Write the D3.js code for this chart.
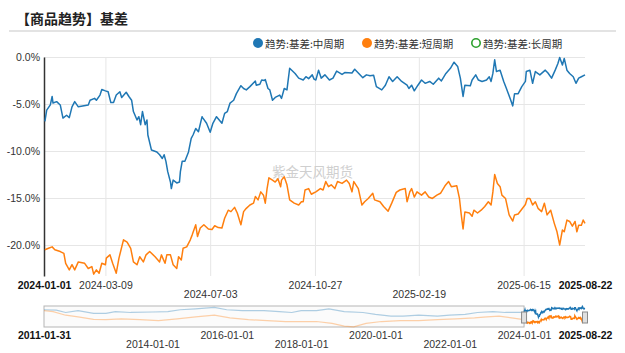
<!DOCTYPE html>
<html>
<head>
<meta charset="utf-8">
<script src="https://cdn.jsdelivr.net/npm/d3@7"></script>
<style>
  html, body { margin: 0; padding: 0; background: #fff; }
  svg { display: block; font-family: "Liberation Sans", Arial, "Noto Sans CJK SC", sans-serif; }
</style>
</head>
<body>
<svg id="chart"></svg>
<script>
// 中周期 (blue) — main window 2024-01-01 .. 2025-08-22
const midSeries = [
  ['2024-01-02', -6.85], ['2024-01-04', -5.65], ['2024-01-08', -5.1], ['2024-01-10', -4.2], ['2024-01-11', -4.9],
  ['2024-01-15', -4.75], ['2024-01-19', -5.1], ['2024-01-22', -6.5], ['2024-01-26', -6.2], ['2024-01-29', -6.45],
  ['2024-02-01', -5.3], ['2024-02-04', -4.75], ['2024-02-08', -5.3], ['2024-02-19', -5.1], ['2024-02-21', -4.6],
  ['2024-02-26', -4.4], ['2024-02-28', -4.6], ['2024-03-03', -4.05], ['2024-03-05', -3.45], ['2024-03-09', -3.6],
  ['2024-03-12', -3.7], ['2024-03-15', -4.85], ['2024-03-18', -4.85], ['2024-03-21', -4.05], ['2024-03-25', -3.7],
  ['2024-03-27', -4.3], ['2024-04-01', -3.75], ['2024-04-04', -4.2], ['2024-04-07', -4.6], ['2024-04-09', -5.8],
  ['2024-04-13', -6.7], ['2024-04-15', -6.35], ['2024-04-17', -7.2], ['2024-04-19', -5.8], ['2024-04-22', -7.2],
  ['2024-04-24', -6.7], ['2024-04-25', -8.3], ['2024-04-29', -9.9], ['2024-05-05', -10.1], ['2024-05-08', -10.4],
  ['2024-05-11', -10.8], ['2024-05-13', -10.4], ['2024-05-15', -11.1], ['2024-05-17', -12.2], ['2024-05-20', -13.3],
  ['2024-05-21', -14.0], ['2024-05-23', -13.1], ['2024-05-27', -13.4], ['2024-05-30', -13.3], ['2024-05-31', -12.2],
  ['2024-06-02', -11.1], ['2024-06-05', -11.1], ['2024-06-09', -10.1], ['2024-06-12', -8.65], ['2024-06-14', -8.3],
  ['2024-06-17', -7.6], ['2024-06-20', -7.95], ['2024-06-24', -6.35], ['2024-06-25', -6.5], ['2024-06-29', -7.05],
  ['2024-07-03', -8.0], ['2024-07-06', -7.05], ['2024-07-10', -6.35], ['2024-07-16', -7.05], ['2024-07-19', -6.0],
  ['2024-07-22', -5.8], ['2024-07-25', -4.9], ['2024-07-29', -4.6], ['2024-08-01', -3.9], ['2024-08-06', -3.05],
  ['2024-08-09', -3.35], ['2024-08-12', -3.5], ['2024-08-16', -3.15], ['2024-08-22', -2.55], ['2024-08-23', -3.0],
  ['2024-08-27', -2.9], ['2024-08-29', -2.45], ['2024-09-01', -2.5], ['2024-09-02', -2.4], ['2024-09-05', -3.35],
  ['2024-09-07', -3.5], ['2024-09-10', -4.6], ['2024-09-13', -4.3], ['2024-09-18', -4.05], ['2024-09-20', -4.4],
  ['2024-09-23', -3.35], ['2024-09-26', -3.5], ['2024-09-29', -1.2], ['2024-10-05', -1.75], ['2024-10-09', -2.25],
  ['2024-10-14', -2.45], ['2024-10-17', -2.1], ['2024-10-20', -2.3], ['2024-10-24', -1.9], ['2024-10-26', -2.35],
  ['2024-10-28', -2.45], ['2024-10-31', -1.4], ['2024-11-03', -2.25], ['2024-11-07', -1.9], ['2024-11-12', -2.45],
  ['2024-11-16', -2.25], ['2024-11-20', -1.5], ['2024-11-26', -1.85], ['2024-11-29', -1.65], ['2024-12-07', -1.7],
  ['2024-12-10', -1.3], ['2024-12-14', -1.7], ['2024-12-19', -2.2], ['2024-12-23', -1.9], ['2024-12-27', -2.0],
  ['2024-12-31', -1.95], ['2025-01-03', -3.15], ['2025-01-09', -3.5], ['2025-01-13', -3.0], ['2025-01-17', -2.1],
  ['2025-01-21', -2.6], ['2025-01-26', -2.1], ['2025-01-31', -2.6], ['2025-02-06', -3.0], ['2025-02-08', -3.35],
  ['2025-02-11', -3.0], ['2025-02-14', -3.6], ['2025-02-18', -3.0], ['2025-02-22', -2.45], ['2025-02-26', -2.8],
  ['2025-03-03', -2.6], ['2025-03-07', -2.9], ['2025-03-13', -2.25], ['2025-03-16', -2.55], ['2025-03-21', -1.75],
  ['2025-03-26', -1.2], ['2025-03-30', -0.55], ['2025-04-03', -1.0], ['2025-04-06', -2.25], ['2025-04-09', -4.2],
  ['2025-04-11', -3.0], ['2025-04-17', -3.05], ['2025-04-19', -2.45], ['2025-04-23', -1.9], ['2025-04-26', -2.45],
  ['2025-04-30', -2.6], ['2025-05-05', -2.45], ['2025-05-08', -2.1], ['2025-05-10', -2.6], ['2025-05-12', -1.75],
  ['2025-05-14', -0.3], ['2025-05-16', -1.55], ['2025-05-20', -1.4], ['2025-05-24', -2.6], ['2025-05-27', -3.35],
  ['2025-05-31', -4.4], ['2025-06-03', -5.2], ['2025-06-05', -3.9], ['2025-06-09', -3.9], ['2025-06-13', -3.15],
  ['2025-06-17', -2.6], ['2025-06-18', -1.55], ['2025-06-22', -1.4], ['2025-06-25', -2.8], ['2025-06-28', -1.55],
  ['2025-07-03', -1.9], ['2025-07-09', -1.4], ['2025-07-12', -1.7], ['2025-07-16', -2.25], ['2025-07-20', -1.4],
  ['2025-07-23', -0.7], ['2025-07-25', -0.05], ['2025-07-28', -0.85], ['2025-07-30', -0.15], ['2025-08-02', -1.4],
  ['2025-08-05', -1.75], ['2025-08-09', -2.1], ['2025-08-12', -2.8], ['2025-08-15', -2.25], ['2025-08-18', -2.1],
  ['2025-08-22', -1.9]
];

// 短周期 (orange)
const shortSeries = [
  ['2024-01-02', -20.5], ['2024-01-06', -20.35], ['2024-01-10', -20.2], ['2024-01-13', -20.5], ['2024-01-19', -20.7],
  ['2024-01-23', -20.9], ['2024-01-25', -21.95], ['2024-01-29', -22.65], ['2024-02-01', -22.1], ['2024-02-04', -22.65],
  ['2024-02-08', -21.8], ['2024-02-15', -21.95], ['2024-02-19', -22.5], ['2024-02-23', -22.3], ['2024-02-25', -23.1],
  ['2024-02-28', -22.65], ['2024-03-02', -23.0], ['2024-03-05', -21.95], ['2024-03-09', -22.1], ['2024-03-10', -21.4],
  ['2024-03-14', -21.05], ['2024-03-17', -21.95], ['2024-03-21', -23.0], ['2024-03-24', -21.4], ['2024-03-29', -19.45],
  ['2024-04-02', -19.7], ['2024-04-06', -20.35], ['2024-04-09', -21.8], ['2024-04-13', -22.1], ['2024-04-16', -21.25],
  ['2024-04-20', -21.8], ['2024-04-23', -21.05], ['2024-04-27', -20.7], ['2024-05-03', -21.25], ['2024-05-08', -21.8],
  ['2024-05-10', -21.05], ['2024-05-14', -21.95], ['2024-05-16', -21.05], ['2024-05-20', -21.05], ['2024-05-23', -22.1],
  ['2024-05-27', -22.5], ['2024-05-29', -21.25], ['2024-06-01', -21.6], ['2024-06-03', -20.35], ['2024-06-07', -20.2],
  ['2024-06-11', -19.45], ['2024-06-13', -18.95], ['2024-06-17', -17.85], ['2024-06-19', -19.1], ['2024-06-22', -18.2],
  ['2024-06-26', -17.85], ['2024-07-01', -18.3], ['2024-07-05', -18.35], ['2024-07-08', -17.95], ['2024-07-12', -18.15],
  ['2024-07-16', -18.2], ['2024-07-19', -17.15], ['2024-07-23', -16.3], ['2024-07-26', -16.45], ['2024-07-30', -16.0],
  ['2024-08-02', -16.6], ['2024-08-06', -17.85], ['2024-08-09', -16.45], ['2024-08-12', -16.1], ['2024-08-16', -15.75],
  ['2024-08-20', -15.55], ['2024-08-22', -14.85], ['2024-08-25', -15.2], ['2024-08-28', -14.35], ['2024-08-31', -14.7],
  ['2024-09-02', -15.55], ['2024-09-04', -14.0], ['2024-09-06', -12.85], ['2024-09-10', -13.1], ['2024-09-13', -13.3],
  ['2024-09-16', -12.95], ['2024-09-19', -13.8], ['2024-09-20', -13.1], ['2024-09-23', -12.75], ['2024-09-26', -13.6],
  ['2024-09-29', -15.2], ['2024-10-04', -15.55], ['2024-10-09', -15.75], ['2024-10-12', -15.4], ['2024-10-14', -15.4],
  ['2024-10-16', -14.15], ['2024-10-20', -14.0], ['2024-10-23', -14.6], ['2024-10-25', -14.5], ['2024-10-28', -14.35],
  ['2024-11-02', -14.0], ['2024-11-05', -14.15], ['2024-11-08', -13.25], ['2024-11-11', -13.8], ['2024-11-14', -13.6],
  ['2024-11-18', -14.0], ['2024-11-21', -13.25], ['2024-11-26', -13.45], ['2024-12-01', -13.1], ['2024-12-04', -13.45],
  ['2024-12-07', -14.35], ['2024-12-09', -13.25], ['2024-12-14', -14.0], ['2024-12-18', -15.75], ['2024-12-21', -15.4],
  ['2024-12-25', -15.05], ['2024-12-30', -14.5], ['2025-01-01', -15.2], ['2025-01-07', -15.4], ['2025-01-11', -15.9],
  ['2025-01-16', -16.4], ['2025-01-20', -15.55], ['2025-01-25', -14.4], ['2025-01-29', -14.15], ['2025-02-04', -14.0],
  ['2025-02-06', -15.4], ['2025-02-09', -14.35], ['2025-02-11', -14.0], ['2025-02-14', -14.9], ['2025-02-17', -14.35],
  ['2025-02-22', -14.7], ['2025-02-26', -14.35], ['2025-03-02', -14.9], ['2025-03-06', -15.05], ['2025-03-11', -14.7],
  ['2025-03-15', -14.5], ['2025-03-20', -13.7], ['2025-03-24', -13.25], ['2025-03-27', -13.8], ['2025-04-02', -13.7],
  ['2025-04-05', -15.05], ['2025-04-07', -16.8], ['2025-04-09', -18.3], ['2025-04-11', -16.5], ['2025-04-16', -16.6],
  ['2025-04-19', -16.95], ['2025-04-21', -16.3], ['2025-04-25', -16.6], ['2025-04-29', -16.3], ['2025-05-03', -15.9],
  ['2025-05-07', -15.4], ['2025-05-10', -15.75], ['2025-05-12', -14.35], ['2025-05-14', -12.5], ['2025-05-17', -13.45],
  ['2025-05-20', -13.8], ['2025-05-22', -14.7], ['2025-05-26', -15.05], ['2025-05-30', -16.8], ['2025-06-03', -17.45],
  ['2025-06-05', -16.8], ['2025-06-09', -16.7], ['2025-06-13', -16.2], ['2025-06-17', -15.7], ['2025-06-19', -15.05],
  ['2025-06-22', -15.05], ['2025-06-25', -15.75], ['2025-06-28', -15.4], ['2025-07-01', -16.1], ['2025-07-05', -16.45],
  ['2025-07-08', -15.55], ['2025-07-11', -16.8], ['2025-07-15', -16.3], ['2025-07-19', -17.7], ['2025-07-22', -18.6],
  ['2025-07-25', -20.0], ['2025-07-28', -18.4], ['2025-07-30', -18.6], ['2025-08-02', -17.35], ['2025-08-05', -17.5],
  ['2025-08-08', -18.0], ['2025-08-11', -17.5], ['2025-08-13', -18.6], ['2025-08-15', -17.9], ['2025-08-18', -17.9],
  ['2025-08-20', -17.35], ['2025-08-22', -17.7]
];

// longer history shown only in the navigator (2011 .. 2023)
const midHistory = [
  ['2011-01-31', -3.9], ['2011-06-01', -4.5], ['2011-09-01', -7.8], ['2012-01-01', -5.2], ['2012-06-01', -9.0],
  ['2012-10-01', -9.0], ['2013-01-01', -6.5], ['2013-06-01', -7.8], ['2014-01-01', -7.1], ['2014-06-01', -6.5],
  ['2014-10-01', -3.9], ['2015-03-01', -2.6], ['2015-09-01', -0.5], ['2016-01-01', -3.9], ['2016-06-01', -5.2],
  ['2017-01-01', -5.2], ['2017-06-01', -6.5], ['2017-10-01', -7.8], ['2018-01-01', -5.2], ['2018-06-01', -5.2],
  ['2018-10-01', -2.6], ['2019-03-01', -6.5], ['2019-09-01', -7.8], ['2020-01-01', -10.4], ['2020-06-01', -13.0],
  ['2020-10-01', -13.0], ['2021-03-01', -11.7], ['2021-09-01', -13.0], ['2022-01-01', -11.7], ['2022-06-01', -10.4],
  ['2022-10-01', -7.8], ['2023-03-01', -6.5], ['2023-07-01', -7.8], ['2023-12-29', -7.6]
];
const shortHistory = [
  ['2011-01-31', -5.2], ['2011-05-01', -6.5], ['2011-09-01', -11.7], ['2012-01-01', -14.2], ['2012-06-01', -17.5],
  ['2012-10-01', -18.1], ['2013-03-01', -16.8], ['2013-09-01', -18.1], ['2014-03-01', -19.4], ['2014-09-01', -16.8],
  ['2015-03-01', -14.2], ['2015-09-01', -11.7], ['2016-02-01', -15.5], ['2016-08-01', -18.1], ['2017-02-01', -19.4],
  ['2017-08-01', -20.7], ['2018-01-01', -20.7], ['2018-06-01', -20.7], ['2018-11-01', -23.3], ['2019-03-01', -27.2],
  ['2019-06-01', -28.3], ['2019-10-01', -23.3], ['2020-03-01', -20.7], ['2020-09-01', -19.4], ['2021-03-01', -19.4],
  ['2021-09-01', -18.1], ['2022-03-01', -16.8], ['2022-09-01', -15.5], ['2023-01-01', -14.2], ['2023-05-01', -13.0],
  ['2023-09-01', -15.5], ['2023-12-29', -18.1]
];

const legendNames = ['趋势:基差:中周期', '趋势:基差:短周期', '趋势:基差:长周期'];
const yTicks = [0, -5, -10, -15, -20];
const xTickLabels = ['2024-01-01', '2024-03-09', '2024-07-03', '2024-10-27', '2025-02-19', '2025-06-15', '2025-08-22'];
const xTickRows = [0, 0, 1, 0, 1, 0, 0];
const navTickLabels = ['2011-01-31', '2014-01-01', '2016-01-01', '2018-01-01', '2020-01-01', '2022-01-01', '2024-01-01', '2025-08-22'];
const navTickRows = [0, 1, 0, 1, 0, 1, 0, 0];

const width = 625, height = 353;
const plot = { left: 44, right: 585, top: 57, bottom: 276 };
const nav = { top: 306, bottom: 327 };
const colors = ['#1f77b4', '#ff7f0e', '#2ca02c'];
const gridColor = '#e6e6e6';
const textColor = '#333';

const parse = d3.timeParse('%Y-%m-%d');
const toPoints = arr => arr.map(([d, v]) => ({ date: parse(d), value: v }));
const mid = toPoints(midSeries), short = toPoints(shortSeries);
const midH = toPoints(midHistory), shortH = toPoints(shortHistory);

const svg = d3.select('#chart')
  .attr('width', width)
  .attr('height', height)
  .attr('viewBox', `0 0 ${width} ${height}`);

// Title + rule
svg.append('text')
  .attr('x', 16).attr('y', 18)
  .attr('dominant-baseline', 'central')
  .attr('font-family', '"Noto Sans CJK SC", sans-serif')
  .attr('font-size', '14px')
  .attr('font-weight', 'bold')
  .attr('fill', '#222')
  .text('【商品趋势】基差');

svg.append('line')
  .attr('x1', 9).attr('x2', 616)
  .attr('y1', 31).attr('y2', 31)
  .attr('stroke', '#e3e3e3')
  .attr('stroke-width', 2);

// Legend
const legend = svg.append('g').attr('font-size', '10.5px').attr('fill', textColor);
legendNames.forEach((name, i) => {
  const cx = 258 + i * 109;
  legend.append('circle')
    .attr('cx', cx).attr('cy', 43).attr('r', i === 2 ? 4.2 : 5)
    .attr('fill', i === 2 ? '#fff' : colors[i])
    .attr('stroke', colors[i])
    .attr('stroke-width', i === 2 ? 1.6 : 0);
  legend.append('text')
    .attr('x', cx + 7).attr('y', 43)
    .attr('dominant-baseline', 'central')
    .attr('font-family', '"Noto Sans CJK SC", sans-serif')
    .text(name);
});

// Scales
const x = d3.scaleTime()
  .domain([parse('2024-01-01'), parse('2025-08-22')])
  .range([plot.left, plot.right]);
const y = d3.scaleLinear()
  .domain([-23.3, 0])
  .range([plot.bottom, plot.top]);

const xTickDates = xTickLabels.map(parse);

// Grid
svg.append('g')
  .attr('transform', `translate(${plot.left},0)`)
  .call(d3.axisLeft(y).tickValues(yTicks).tickSize(-(plot.right - plot.left)).tickFormat(''))
  .call(g => g.select('.domain').remove())
  .call(g => g.selectAll('line').attr('stroke', gridColor));

svg.append('g')
  .attr('transform', `translate(0,${plot.bottom})`)
  .call(d3.axisBottom(x).tickValues(xTickDates.slice(1, -1)).tickSize(-(plot.bottom - plot.top)).tickFormat(''))
  .call(g => g.select('.domain').remove())
  .call(g => g.selectAll('line').attr('stroke', gridColor));

// Watermark
svg.append('text')
  .attr('x', 272).attr('y', 171)
  .attr('dominant-baseline', 'central')
  .attr('font-family', '"Noto Sans CJK SC", sans-serif')
  .attr('font-size', '13.5px')
  .attr('fill', '#cfcfcf')
  .text('紫金天风期货');

// Y axis
svg.append('g')
  .attr('transform', `translate(${plot.left},0)`)
  .call(d3.axisLeft(y).tickValues(yTicks).tickSize(0).tickSizeOuter(0).tickPadding(4)
    .tickFormat(d => d.toFixed(1) + '%'))
  .call(g => g.select('.domain').attr('stroke', '#333').attr('stroke-width', 1.5))
  .call(g => g.selectAll('text').attr('font-size', '10.5px').attr('fill', textColor)
    .attr('font-family', '"Liberation Sans", Arial, sans-serif'));

// X axis labels
svg.append('g')
  .attr('transform', `translate(0,${plot.bottom})`)
  .call(d3.axisBottom(x).tickValues(xTickDates).tickSize(0).tickFormat(d3.timeFormat('%Y-%m-%d')))
  .call(g => g.select('.domain').remove())
  .call(g => g.selectAll('text')
    .attr('y', (d, i) => xTickRows[i] ? 18 : 9)
    .attr('dy', '0.35em')
    .attr('font-size', '10.5px')
    .attr('font-weight', (d, i) => (i === 0 || i === xTickDates.length - 1) ? 'bold' : 'normal')
    .attr('fill', (d, i) => (i === 0 || i === xTickDates.length - 1) ? '#111' : textColor)
    .attr('font-family', '"Liberation Sans", Arial, sans-serif'));

// Lines
const line = d3.line().x(d => x(d.date)).y(d => y(d.value));
[mid, short].forEach((s, i) => {
  svg.append('path')
    .datum(s)
    .attr('fill', 'none')
    .attr('stroke', colors[i])
    .attr('stroke-width', 1.5)
    .attr('stroke-linejoin', 'round')
    .attr('d', line);
});

// Navigator
const x2 = d3.scaleTime()
  .domain([parse('2011-01-31'), parse('2025-08-22')])
  .range([plot.left, plot.right]);
const y2 = d3.scaleLinear()
  .domain([-28.5, 0])
  .range([nav.bottom, nav.top + 1]);
const navLine = d3.line().x(d => x2(d.date)).y(d => y2(d.value));
const selStart = x2(parse('2024-01-01'));

svg.append('rect')
  .attr('x', plot.left).attr('y', nav.top)
  .attr('width', selStart - plot.left).attr('height', nav.bottom - nav.top)
  .attr('fill', '#fbfbfb')
  .attr('stroke', '#b5b5b5')
  .attr('stroke-width', 1);

[midH, shortH].forEach((s, i) => {
  svg.append('path')
    .datum(s)
    .attr('fill', 'none')
    .attr('stroke', colors[i])
    .attr('stroke-opacity', 0.35)
    .attr('stroke-width', 1.2)
    .attr('d', navLine);
});
[mid, short].forEach((s, i) => {
  svg.append('path')
    .datum(s)
    .attr('fill', 'none')
    .attr('stroke', colors[i])
    .attr('stroke-width', 1.5)
    .attr('d', navLine);
});

// handles
[selStart, plot.right].forEach(hx => {
  svg.append('rect')
    .attr('x', hx - 2.5).attr('y', 312)
    .attr('width', 5).attr('height', 11)
    .attr('fill', '#e0e0e0')
    .attr('stroke', '#8a8a8a')
    .attr('stroke-width', 1);
});

const navTickDates = navTickLabels.map(parse);
svg.append('g')
  .attr('transform', `translate(0,${nav.bottom})`)
  .call(d3.axisBottom(x2).tickValues(navTickDates).tickSize(0).tickFormat(d3.timeFormat('%Y-%m-%d')))
  .call(g => g.select('.domain').remove())
  .call(g => g.selectAll('text')
    .attr('y', (d, i) => navTickRows[i] ? 17 : 8)
    .attr('dy', '0.35em')
    .attr('font-size', '10.5px')
    .attr('font-weight', (d, i) => (i === 0 || i === navTickDates.length - 1) ? 'bold' : 'normal')
    .attr('fill', (d, i) => (i === 0 || i === navTickDates.length - 1) ? '#111' : textColor)
    .attr('font-family', '"Liberation Sans", Arial, sans-serif'));
</script>
</body>
</html>
